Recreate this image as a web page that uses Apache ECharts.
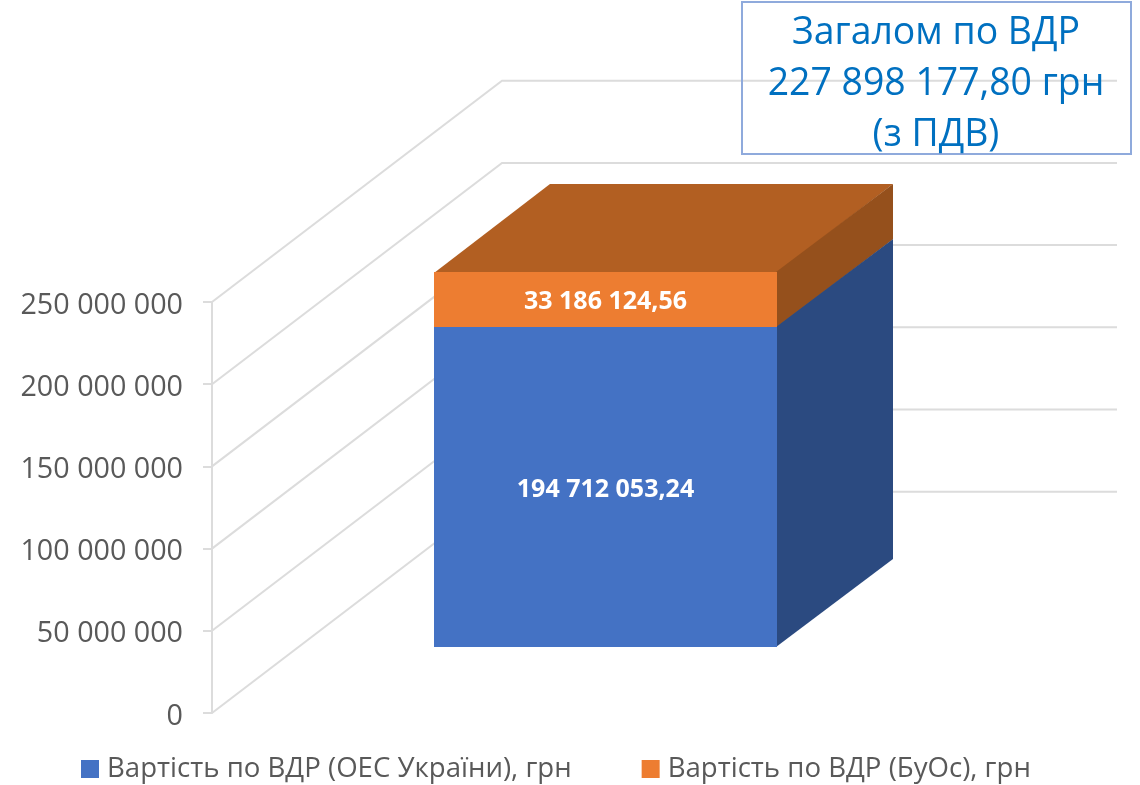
<!DOCTYPE html>
<html><head><meta charset="utf-8">
<style>html,body{margin:0;padding:0;background:#fff}#c{width:1140px;height:785px}</style>
<script src="https://cdn.jsdelivr.net/npm/echarts@6/dist/echarts.min.js"></script>
</head><body><div id="c"></div>
<script>
const categories = ['ВДР'];
const oesValues = [194712053.24];
const buosValues = [33186124.56];
const seriesNames = ['Вартість по ВДР (ОЕС України), грн', 'Вартість по ВДР (БуОс), грн'];
const tickValues = [0, 50000000, 100000000, 150000000, 200000000, 250000000];
const totalLines = ['Загалом по ВДР', '227 898 177,80 грн', '(з ПДВ)'];

const FONT = '"Open Sans","Noto Sans",sans-serif';
const DX = 290, DY = 221.3;         // full depth of the 3D floor in pixels
const NEAR = 0.2965, FAR = 0.6955;  // bar depth as fraction of the floor depth
const BAR_W = 0.5577;               // bar width as fraction of category band
const GRID = '#dcdcdc';

const fmtInt = v => String(v).replace(/\B(?=(\d{3})+(?!\d))/g, ' ');
const fmtVal = v => fmtInt(Math.floor(v)) + ',' + v.toFixed(2).split('.')[1];

function pts(list){ return list.map(p => [p[0], p[1]]); }

function barRenderer(baseArr, colors){
  return function(params, api){
    const i = api.value(0), v = api.value(1), b = baseArr[params.dataIndex];
    const c0 = api.coord([i, b]), c1 = api.coord([i, b + v]);
    const w = api.size([1, 0])[0] * BAR_W;
    const off = (f) => [DX * f, -DY * f];
    const n = off(NEAR), f = off(FAR);
    const xl = Math.round(c0[0] - w / 2 + n[0]), xr = Math.round(c0[0] + w / 2 + n[0]);
    const yb = Math.floor(c0[1] + n[1]), yt = Math.floor(c1[1] + n[1]);
    const ddx = Math.round(f[0] - n[0]), ddy = Math.round(f[1] - n[1]);
    return { type: 'group', children: [
      { type:'polygon', shape:{points:pts([[xl,yt+1],[xr,yt+1],[xr+ddx,yt+ddy],[xl+ddx,yt+ddy]])}, style:{fill:colors.top} },
      { type:'polygon', shape:{points:pts([[xr-1,yb],[xr-1,yt],[xr+ddx,yt+ddy],[xr+ddx,yb+ddy]])}, style:{fill:colors.side} },
      { type:'rect', shape:{x:xl,y:yt,width:xr-xl,height:yb-yt}, style:{fill:colors.front} },
      { type:'text', x:(xl+xr)/2, y:(yt+yb)/2+2.5, style:{text:fmtVal(v), fill:'#fff', font:'bold 25px '+FONT, align:'center', verticalAlign:'middle'} }
    ]};
  };
}

const blueColors = {front:'#4472C4', side:'#2B4A80', top:'#2F528F'};
const orangeColors = {front:'#ED7D31', side:'#95501C', top:'#B25F22'};
const zeroBase = oesValues.map(() => 0);

const option = {
  backgroundColor:'#fff',
  animation:false,
  grid:{left:212, top:302, width:615, height:411},
  xAxis:{type:'category', data:categories, show:false},
  yAxis:{type:'value', min:0, max:250000000, interval:50000000,
    axisLine:{show:true, lineStyle:{color:GRID, width:2}},
    axisTick:{show:true, length:9, lineStyle:{color:GRID, width:2}},
    splitLine:{show:false},
    axisLabel:{margin:29, formatter:v => '{t|' + fmtInt(v) + '}',
      rich:{t:{color:'#595959', fontSize:28.7, fontFamily:FONT, padding:[7,0,0,0]}}}
  },
  legend:{left:76, top:750, itemWidth:18, itemHeight:18, itemGap:70, icon:'rect',
    data:seriesNames, selectedMode:false,
    textStyle:{color:'#595959', fontSize:27.6, fontFamily:FONT, padding:[0,0,0,3]}},
  graphic:[
    {type:'rect', z:100, shape:{x:742,y:2,width:389,height:152}, style:{fill:'transparent', stroke:'#8FAADC', lineWidth:2}},
    ...totalLines.map((t,i)=>({type:'text', z:101, x:936, y:33+51*i, style:{text:t, fill:'#0070C0', font:'37.4px '+FONT, align:'center', verticalAlign:'middle'}}))
  ],
  series:[
    {type:'custom', name:'grid', silent:true, z:1, data:tickValues.map(v=>[0,v]),
     renderItem:function(params, api){
       const c = api.coord([0, api.value(1)]);
       const r = params.coordSys;
       return {type:'polyline', shape:{points:[[c[0]-r.width/2,c[1]],[r.x+DX,c[1]-DY],[r.x+r.width+DX,c[1]-DY]]},
               style:{stroke:GRID, lineWidth:2, fill:null}};
     }},
    {type:'custom', name:seriesNames[0], z:2, itemStyle:{color:blueColors.front},
     data:oesValues.map((v,i)=>[i,v]), renderItem:barRenderer(zeroBase, blueColors)},
    {type:'custom', name:seriesNames[1], z:3, itemStyle:{color:orangeColors.front},
     data:buosValues.map((v,i)=>[i,v]), renderItem:barRenderer(oesValues, orangeColors)}
  ]
};
echarts.init(document.getElementById('c'), null, {renderer:'canvas'}).setOption(option);
</script></body></html>
